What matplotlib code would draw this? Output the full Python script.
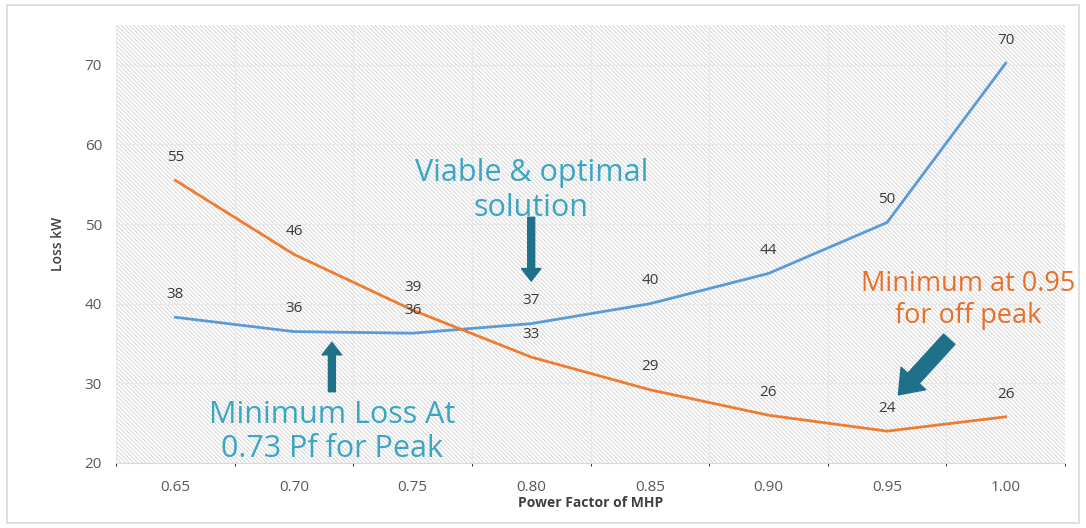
import matplotlib.pyplot as plt
from matplotlib.patches import Rectangle, FancyArrowPatch

# power factor of the MHP and the loss for the two load cases
power_factor = [0.65, 0.70, 0.75, 0.80, 0.85, 0.90, 0.95, 1.00]
peak_loss = [38.3, 36.5, 36.3, 37.5, 40.0, 43.8, 50.2, 70.2]
offpeak_loss = [55.5, 46.2, 39.2, 33.3, 29.2, 26.0, 24.0, 25.8]
peak_labels = ["38", "36", "36", "37", "40", "44", "50", "70"]
offpeak_labels = ["55", "46", "39", "33", "29", "26", "24", "26"]
x_ticks = [0.65, 0.70, 0.75, 0.80, 0.85, 0.90, 0.95, 1.00]
y_ticks = [20, 30, 40, 50, 60, 70]

BLUE = "#5b9bd5"
ORANGE = "#ed7d31"
TEAL = "#1f7189"
TEAL_TEXT = "#3aa6c4"
plt.rcParams["font.family"] = ["Open Sans", "DejaVu Sans"]
plt.rcParams["hatch.linewidth"] = 0.6

fig = plt.figure(figsize=(10.86, 5.28), dpi=100)
ax = fig.add_axes([116 / 1086, 65 / 528, (1065 - 116) / 1086, (463 - 25) / 528])

# outer frame of the chart
fig.patches.append(Rectangle((0.006, 0.01), 0.988, 0.98, transform=fig.transFigure,
                             fill=False, edgecolor="#d9d9d9", linewidth=1.2))

ax.set_xlim(0.625, 1.025)
ax.set_ylim(20, 75)
ax.add_patch(Rectangle((0, 0), 1, 1, transform=ax.transAxes, facecolor="white",
                       edgecolor="#d0d0d0", hatch="\\\\\\\\\\\\\\\\", linewidth=0, zorder=0))

ax.set_xticks([0.625 + 0.025 * i for i in range(17)], minor=True)
ax.grid(which="minor", axis="x", color="#e8e8e8", linewidth=1.0)
ax.grid(which="major", axis="y", color="#e8e8e8", linewidth=1.0)
ax.set_axisbelow(True)
for s in ax.spines.values():
    s.set_visible(False)
ax.spines["bottom"].set_visible(True)
ax.spines["bottom"].set_color("#d9d9d9")

ax.plot(power_factor, peak_loss, color=BLUE, linewidth=2.0, zorder=3)
ax.plot(power_factor, offpeak_loss, color=ORANGE, linewidth=2.0, zorder=3)

for x, y, t in zip(power_factor, peak_loss, peak_labels):
    ax.annotate(t, (x, y), xytext=(0, 11), textcoords="offset points", ha="center",
                va="bottom", fontsize=11, color="#3a3a3a", zorder=4)
for x, y, t in zip(power_factor, offpeak_loss, offpeak_labels):
    ax.annotate(t, (x, y), xytext=(0, 11), textcoords="offset points", ha="center",
                va="bottom", fontsize=11, color="#3a3a3a", zorder=4)

ax.set_xticks(x_ticks)
ax.set_xticklabels(["%.2f" % v for v in x_ticks])
ax.set_yticks(y_ticks)
ax.tick_params(axis="both", length=0, labelsize=11, colors="#595959", pad=10)
ax.tick_params(axis="x", pad=12)
ax.set_xlabel("Power Factor of MHP", fontsize=10, fontweight="bold", color="#404040", labelpad=1)
ax.set_ylabel("Loss kW", fontsize=10, fontweight="semibold", color="#404040", labelpad=14)

# annotation arrows
ax.add_patch(FancyArrowPatch((0.716, 28.6), (0.716, 35.5), mutation_scale=10, color=TEAL,
                             arrowstyle="simple,head_width=1.4,head_length=0.9,tail_width=0.5", zorder=5))
ax.add_patch(FancyArrowPatch((0.80, 51.2), (0.80, 42.5), mutation_scale=10, color=TEAL,
                             arrowstyle="simple,head_width=1.4,head_length=0.9,tail_width=0.5", zorder=5))
ax.add_patch(FancyArrowPatch((0.977, 35.8), (0.954, 28.3), mutation_scale=10, color=TEAL,
                             arrowstyle="simple,head_width=2.4,head_length=1.6,tail_width=1.1", zorder=5))

ax.text(0.80, 54.2, "Viable & optimal\nsolution", ha="center", va="center", fontsize=22,
        color=TEAL_TEXT, linespacing=1.21, zorder=6)
ax.text(0.716, 23.9, "Minimum Loss At\n0.73 Pf for Peak", ha="center", va="center", fontsize=22,
        color=TEAL_TEXT, linespacing=1.21, zorder=6)
ax.text(0.984, 40.5, "Minimum at 0.95\nfor off peak", ha="center", va="center", fontsize=19.5,
        color="#e8702a", linespacing=1.18, zorder=6)

fig.savefig("out.png", dpi=100)
